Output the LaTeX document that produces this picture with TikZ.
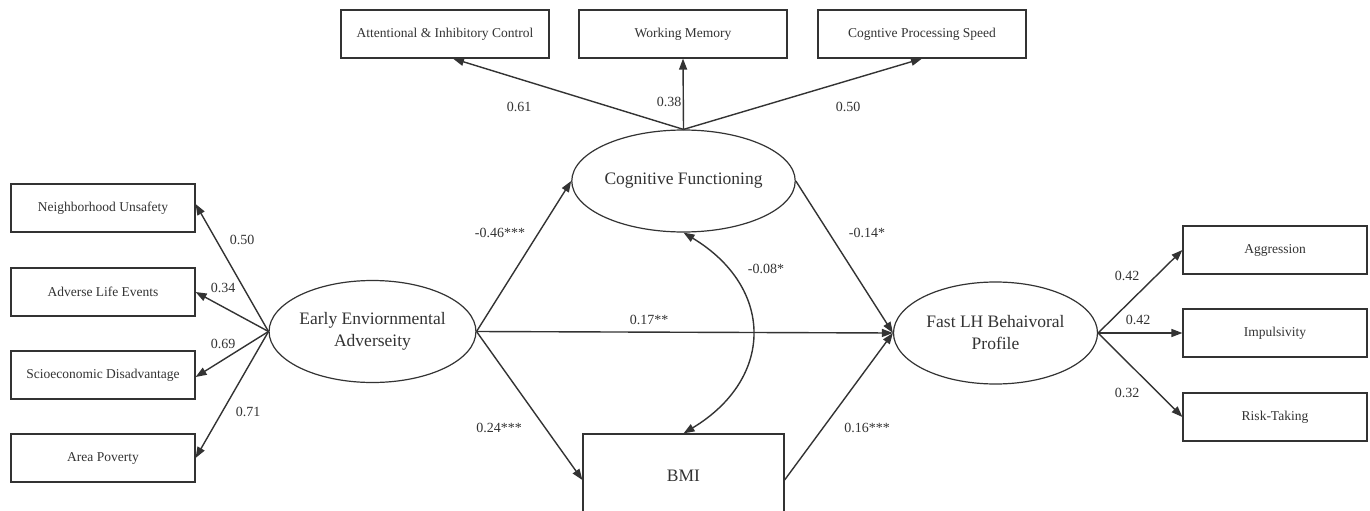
\documentclass[tikz,border=0pt]{standalone}
\usepackage{fontspec}
\setmainfont{Liberation Serif}
\usetikzlibrary{shapes.geometric,arrows.meta}
\definecolor{ink}{HTML}{333333}
\begin{document}
\begin{tikzpicture}[x=1pt,y=-1pt,
  obs/.style={draw=ink,line width=1.2pt,rectangle,minimum width=184pt,minimum height=48pt,inner sep=0pt,font=\fontsize{13.5}{16}\selectfont,text=ink},
  topobs/.style={obs,minimum width=208pt},
  lat/.style={draw=ink,line width=1.2pt,ellipse,minimum width=204pt,minimum height=102pt,inner sep=0pt,align=center,font=\fontsize{17.5}{22}\selectfont,text=ink},
  arr/.style={draw=ink,line width=1.4pt,-{Triangle[length=11pt,width=8pt]}},
  biarr/.style={draw=ink,line width=1.4pt,{Triangle[length=11pt,width=8pt]}-{Triangle[length=11pt,width=8pt]}},
  coef/.style={font=\fontsize{14}{16}\selectfont,text=ink,inner sep=0pt}
]
\useasboundingbox (0,0) rectangle (1370,511);
\clip (0,0) rectangle (1370,511);
\fill[white] (0,0) rectangle (1370,511);

% latent variables
\node[lat] (early) at (372.5,331.5) {Early Enviornmental\\Adverseity};
\node[lat] (cog) at (683.5,181) {Cognitive Functioning};
\node[lat] (fast) at (995.5,333) {Fast LH Behaivoral\\Profile};
\node[draw=ink,line width=1.2pt,rectangle,minimum width=201pt,minimum height=84pt,inner sep=0pt,font=\fontsize{17.5}{22}\selectfont,text=ink] (bmi) at (683.5,476) {BMI};

% left indicators
\node[obs] (n1) at (103,208) {Neighborhood Unsafety};
\node[obs] (n2) at (103,292) {Adverse Life Events};
\node[obs] (n3) at (103,375) {Scioeconomic Disadvantage};
\node[obs] (n4) at (103,458) {Area Poverty};

% top indicators
\node[topobs] (t1) at (445,34) {Attentional \& Inhibitory Control};
\node[topobs] (t2) at (683,34) {Working Memory};
\node[topobs] (t3) at (922,34) {Cogntive Processing Speed};

% right indicators
\node[obs] (r1) at (1275,250) {Aggression};
\node[obs] (r2) at (1275,333) {Impulsivity};
\node[obs] (r3) at (1275,417) {Risk-Taking};

% loadings
\draw[arr] (early.west) -- ([yshift=4pt]n1.east);
\draw[arr] (early.west) -- (n2.east);
\draw[arr] (early.west) -- ([yshift=-2pt]n3.east);
\draw[arr] (early.west) -- (n4.east);

\draw[arr] (cog.north) -- ([xshift=8pt]t1.south);
\draw[arr] (cog.north) -- (t2.south);
\draw[arr] (cog.north) -- (t3.south);

\draw[arr] (fast.east) -- (r1.west);
\draw[arr] (fast.east) -- (r2.west);
\draw[arr] (fast.east) -- (r3.west);

% structural paths
\draw[arr] (early.east) -- (cog.west);
\draw[arr] (early.east) -- (fast.west);
\draw[arr] (early.east) -- ([yshift=-4pt]bmi.west);
\draw[arr] (cog.east) -- (fast.west);
\draw[arr] ([yshift=-4pt]bmi.east) -- (fast.west);
\draw[biarr] (cog.south) .. controls +(91,55) and +(91,-55) .. (bmi.north);

% coefficient labels
\node[coef] (l1) at (242,240) {0.50};
\node[coef] (l2) at (223,288) {0.34};
\node[coef] (l3) at (223,344) {0.69};
\node[coef] (l4) at (248,412) {0.71};
\node[coef] (l5) at (519,107) {0.61};
\node[coef] (l6) at (669,102) {0.38};
\node[coef] (l7) at (848,107) {0.50};
\node[coef] (l8) at (500,233) {-0.46***};
\node[coef] (l9) at (867,233) {-0.14*};
\node[coef] (l10) at (649,320) {0.17**};
\node[coef] (l11) at (766,269) {-0.08*};
\node[coef] (l12) at (499,428) {0.24***};
\node[coef] (l13) at (867,428) {0.16***};
\node[coef] (l14) at (1127,276) {0.42};
\node[coef] (l15) at (1138,320) {0.42};
\node[coef] (l16) at (1127,393) {0.32};
\end{tikzpicture}
\end{document}
